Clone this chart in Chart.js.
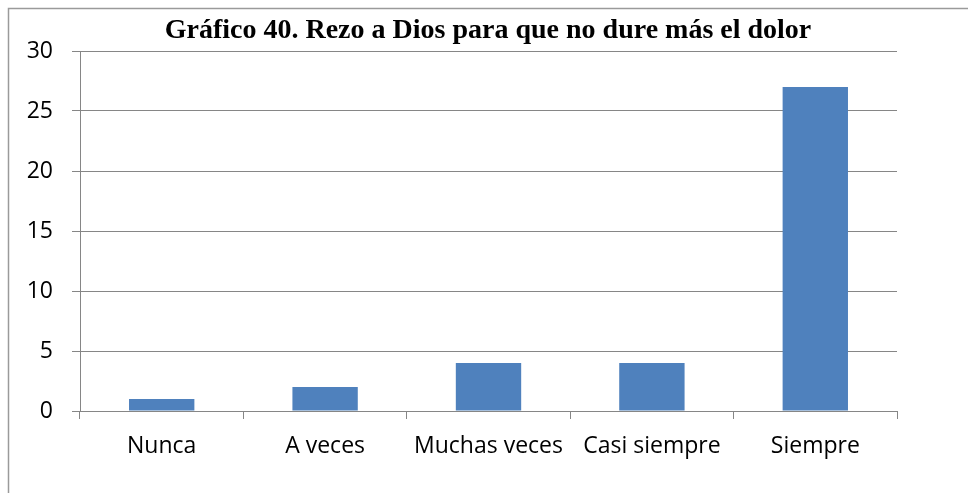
<!DOCTYPE html>
<html>
<head>
<meta charset="utf-8">
<script src="https://cdn.jsdelivr.net/npm/chart.js@4.4.1/dist/chart.umd.min.js"></script>
<style>
  html, body { margin: 0; padding: 0; background: #fff; overflow: hidden; }
  #wrap { width: 968px; height: 493px; position: relative; }
</style>
</head>
<body>
<div id="wrap"><canvas id="chart"></canvas></div>
<script>
const titleText = 'Gráfico 40. Rezo a Dios para que no dure más el dolor';
const categories = ['Nunca', 'A veces', 'Muchas veces', 'Casi siempre', 'Siempre'];
const counts = [1, 2, 4, 4, 27];
const yTicks = [0, 5, 10, 15, 20, 25, 30];

const gridGray = '#868686';
const tickFont = { family: '"Open Sans", sans-serif', size: 23 };

// outer frame: only the left and top edges fall inside the canvas
const framePlugin = {
  id: 'frame',
  beforeDraw(chart) {
    const { ctx, width, height } = chart;
    ctx.save();
    ctx.strokeStyle = '#9a9a9a';
    ctx.lineWidth = 1.5;
    ctx.beginPath();
    ctx.moveTo(8.5, height);
    ctx.lineTo(8.5, 8.5);
    ctx.lineTo(width, 8.5);
    ctx.stroke();
    ctx.restore();
  },
};

new Chart(document.getElementById('chart'), {
  type: 'bar',
  data: {
    labels: categories,
    datasets: [{
      data: counts,
      backgroundColor: '#4f81bd',
      borderWidth: 0,
      categoryPercentage: 1,
      barPercentage: 0.4,
    }],
  },
  options: {
    responsive: true,
    maintainAspectRatio: false,
    animation: false,
    layout: { padding: { left: 8, right: 0, top: 0, bottom: 0 } },
    plugins: {
      legend: { display: false },
      tooltip: { enabled: false },
      title: {
        display: true,
        text: titleText,
        color: '#000',
        font: { family: '"Liberation Serif", "Times New Roman", serif', size: 28, weight: 'bold', lineHeight: 1.2 },
        padding: { top: 14, bottom: 3.4 },
      },
    },
    scales: {
      x: {
        grid: { offset: true, drawOnChartArea: false, drawTicks: true, tickLength: 8, color: gridGray },
        border: { color: gridGray },
        ticks: { color: '#000', font: tickFont, padding: 14, maxRotation: 0, autoSkip: false },
        afterFit(scale) { scale.height = 82; },
      },
      y: {
        min: 0,
        max: 30,
        afterBuildTicks(scale) { scale.ticks = yTicks.map((v) => ({ value: v })); },
        grid: { color: gridGray, tickLength: 8 },
        border: { color: gridGray },
        ticks: { color: '#000', font: tickFont, padding: 19 },
        afterFit(scale) { scale.width = 72; },
      },
      // empty right axis keeps the plot area clear of the right margin
      spacer: {
        position: 'right',
        display: true,
        grid: { display: false, drawTicks: false },
        border: { display: false },
        ticks: { display: false },
        afterFit(scale) { scale.width = 71; },
      },
    },
  },
  plugins: [framePlugin],
});
</script>
</body>
</html>
